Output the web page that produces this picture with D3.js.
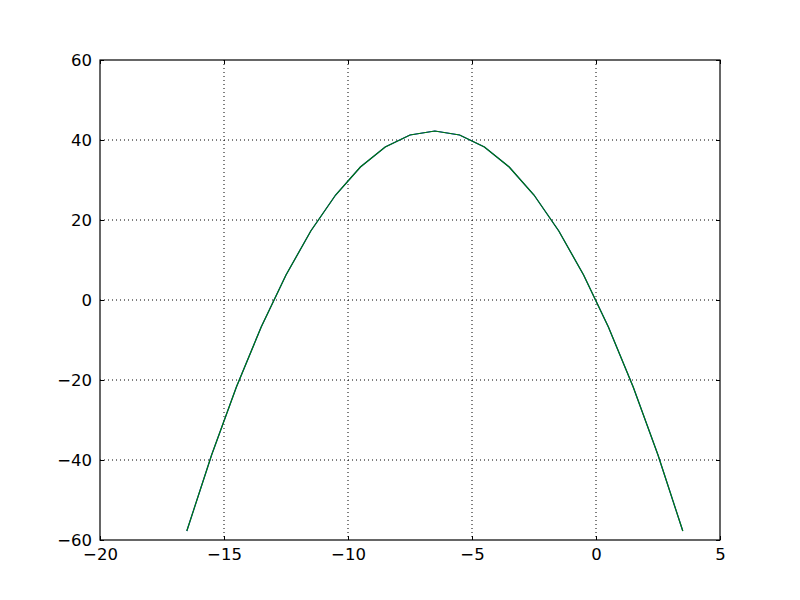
<!DOCTYPE html>
<html>
<head>
<meta charset="utf-8">
<script src="https://cdn.jsdelivr.net/npm/d3@7"></script>
<style>
  body { margin: 0; background: #fff; }
  svg { display: block; }
  .tick text { font-family: "DejaVu Sans", sans-serif; font-size: 16.5px; fill: #000; }
</style>
</head>
<body>
<div id="chart"></div>
<script>
// data
const xVals = [-16.5, -15.5, -14.5, -13.5, -12.5, -11.5, -10.5, -9.5, -8.5, -7.5, -6.5,
  -5.5, -4.5, -3.5, -2.5, -1.5, -0.5, 0.5, 1.5, 2.5, 3.5];
const yVals = [-57.75, -38.75, -21.75, -6.75, 6.25, 17.25, 26.25, 33.25, 38.25, 41.25, 42.25,
  41.25, 38.25, 33.25, 26.25, 17.25, 6.25, -6.75, -21.75, -38.75, -57.75];
const xTicks = [-20, -15, -10, -5, 0, 5];
const yTicks = [-60, -40, -20, 0, 20, 40, 60];

const W = 800, H = 600,
  M = { t: 60, r: 80, b: 60, l: 100 },
  w = W - M.l - M.r,
  h = H - M.t - M.b;

const svg = d3.select("#chart").append("svg").attr("width", W).attr("height", H);
const g = svg.append("g").attr("transform", `translate(${M.l},${M.t})`);

const x = d3.scaleLinear().domain([-20, 5]).range([0, w]);
const y = d3.scaleLinear().domain([-60, 60]).range([h, 0]);
const minus = (d) => (d < 0 ? "\u2212" + Math.abs(d) : String(d));

// grid
g.append("g")
  .selectAll("line")
  .data(xTicks.slice(1, -1))
  .join("line")
  .attr("x1", (d) => x(d)).attr("x2", (d) => x(d))
  .attr("y1", 0).attr("y2", h)
  .attr("stroke", "#000").attr("stroke-width", 1)
  .attr("stroke-dasharray", "1,3");
g.append("g")
  .selectAll("line")
  .data(yTicks.slice(1, -1))
  .join("line")
  .attr("y1", (d) => y(d)).attr("y2", (d) => y(d))
  .attr("x1", 0).attr("x2", w)
  .attr("stroke", "#000").attr("stroke-width", 1)
  .attr("stroke-dasharray", "1,3");

// series (blue line drawn first, green on top)
const pts = xVals.map((v, i) => [v, yVals[i]]);
const line = d3.line().x((d) => x(d[0])).y((d) => y(d[1]));
g.append("path").datum(pts).attr("d", line)
  .attr("fill", "none").attr("stroke", "#0000ff").attr("stroke-width", 1.2);
g.append("path").datum(pts).attr("d", line)
  .attr("fill", "none").attr("stroke", "#008000").attr("stroke-width", 1.2);

// axes (ticks point inward, classic style)
const ax = (gen) => gen.tickSizeInner(-4).tickSizeOuter(0).tickPadding(8).tickFormat(minus);
g.append("g").attr("transform", `translate(0,${h})`)
  .call(ax(d3.axisBottom(x).tickValues(xTicks)));
g.append("g")
  .call(ax(d3.axisLeft(y).tickValues(yTicks)));
g.append("g")
  .call(d3.axisTop(x).tickValues(xTicks).tickSizeInner(-4).tickSizeOuter(0).tickFormat(""));
g.append("g").attr("transform", `translate(${w},0)`)
  .call(d3.axisRight(y).tickValues(yTicks).tickSizeInner(-4).tickSizeOuter(0).tickFormat(""));
g.selectAll(".domain").remove();
g.selectAll(".tick line").attr("stroke", "#000");

g.append("rect").attr("width", w).attr("height", h)
  .attr("fill", "none").attr("stroke", "#000").attr("stroke-width", 1.2);
</script>
</body>
</html>
